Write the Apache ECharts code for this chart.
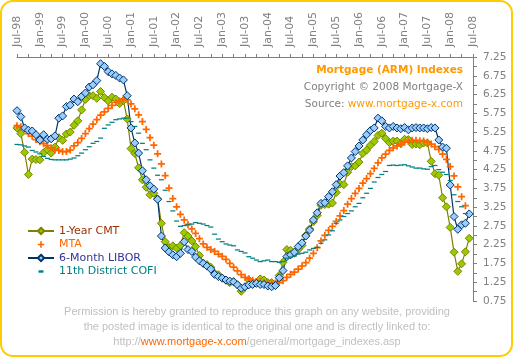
<!DOCTYPE html>
<html><head><meta charset="utf-8">
<script src="https://cdn.jsdelivr.net/npm/echarts@6/dist/echarts.min.js"></script>
<style>html,body{margin:0;padding:0;background:#fff}#c{width:514px;height:358px}</style>
</head><body><div id="c"></div>
<script>
var months = ["Jul-98","Aug-98","Sep-98","Oct-98","Nov-98","Dec-98",
"Jan-99","Feb-99","Mar-99","Apr-99","May-99","Jun-99","Jul-99","Aug-99","Sep-99","Oct-99","Nov-99","Dec-99",
"Jan-00","Feb-00","Mar-00","Apr-00","May-00","Jun-00","Jul-00","Aug-00","Sep-00","Oct-00","Nov-00","Dec-00",
"Jan-01","Feb-01","Mar-01","Apr-01","May-01","Jun-01","Jul-01","Aug-01","Sep-01","Oct-01","Nov-01","Dec-01",
"Jan-02","Feb-02","Mar-02","Apr-02","May-02","Jun-02","Jul-02","Aug-02","Sep-02","Oct-02","Nov-02","Dec-02",
"Jan-03","Feb-03","Mar-03","Apr-03","May-03","Jun-03","Jul-03","Aug-03","Sep-03","Oct-03","Nov-03","Dec-03",
"Jan-04","Feb-04","Mar-04","Apr-04","May-04","Jun-04","Jul-04","Aug-04","Sep-04","Oct-04","Nov-04","Dec-04",
"Jan-05","Feb-05","Mar-05","Apr-05","May-05","Jun-05","Jul-05","Aug-05","Sep-05","Oct-05","Nov-05","Dec-05",
"Jan-06","Feb-06","Mar-06","Apr-06","May-06","Jun-06","Jul-06","Aug-06","Sep-06","Oct-06","Nov-06","Dec-06",
"Jan-07","Feb-07","Mar-07","Apr-07","May-07","Jun-07","Jul-07","Aug-07","Sep-07","Oct-07","Nov-07","Dec-07",
"Jan-08","Feb-08","Mar-08","Apr-08","May-08","Jun-08","Jul-08"];

var cmt = [5.36,5.21,4.71,4.12,4.53,4.52,4.51,4.70,4.78,4.69,4.85,5.10,
5.03,5.20,5.25,5.43,5.55,5.84,6.12,6.22,6.22,6.15,6.33,6.17,
6.08,6.18,6.13,6.01,6.09,5.60,4.81,4.68,4.30,3.98,3.78,3.58,
3.62,3.47,2.82,2.33,2.18,2.22,2.16,2.23,2.57,2.48,2.35,2.20,
1.96,1.76,1.72,1.65,1.49,1.45,1.36,1.30,1.24,1.27,1.18,1.01,
1.12,1.31,1.24,1.25,1.34,1.31,1.24,1.24,1.19,1.43,1.78,2.12,
2.10,2.02,2.12,2.23,2.50,2.67,2.86,3.03,3.30,3.32,3.33,3.36,
3.64,3.87,3.85,4.18,4.33,4.35,4.45,4.68,4.77,4.90,5.00,5.16,
5.22,5.08,4.97,5.01,5.01,4.94,5.06,5.05,4.92,4.93,4.91,4.96,
4.96,4.47,4.14,4.10,3.50,3.26,2.71,2.05,1.54,1.74,2.06,2.42];

var mta = [5.42,5.39,5.33,5.21,5.14,5.05,4.99,4.94,4.89,4.83,4.78,4.76,
4.73,4.73,4.77,4.88,4.97,5.08,5.21,5.34,5.46,5.58,5.70,5.79,
5.88,5.96,6.04,6.08,6.13,6.11,6.00,5.87,5.71,5.53,5.32,5.10,
4.90,4.67,4.40,4.09,3.76,3.48,3.26,3.06,2.91,2.79,2.67,2.55,
2.41,2.27,2.18,2.12,2.07,2.00,1.94,1.86,1.75,1.65,1.55,1.45,
1.38,1.34,1.30,1.27,1.26,1.24,1.23,1.23,1.23,1.24,1.29,1.38,
1.46,1.52,1.60,1.68,1.77,1.89,2.02,2.17,2.35,2.50,2.63,2.74,
2.87,3.02,3.16,3.33,3.48,3.62,3.75,3.89,4.01,4.14,4.28,4.43,
4.56,4.66,4.76,4.83,4.88,4.93,4.98,5.01,5.03,5.03,5.02,5.01,
4.98,4.93,4.86,4.79,4.66,4.52,4.33,4.08,3.79,3.53,3.29];

var libor = [5.82,5.66,5.36,5.30,5.28,5.18,5.04,5.18,5.06,5.07,5.15,5.62,
5.68,5.93,5.97,6.13,6.06,6.20,6.29,6.45,6.51,6.62,7.07,7.00,
6.86,6.80,6.76,6.69,6.64,6.22,5.36,4.96,4.69,4.22,3.98,3.82,
3.73,3.46,2.48,2.16,2.06,1.98,1.93,2.02,2.33,2.12,2.07,1.92,
1.82,1.75,1.68,1.60,1.46,1.40,1.36,1.31,1.28,1.26,1.18,1.09,
1.13,1.18,1.19,1.22,1.19,1.19,1.15,1.13,1.16,1.37,1.56,1.93,
1.98,2.05,2.20,2.30,2.48,2.64,2.91,3.10,3.35,3.37,3.53,3.66,
3.85,4.08,4.17,4.35,4.56,4.73,4.88,5.04,5.18,5.29,5.36,5.62,
5.55,5.40,5.36,5.40,5.36,5.34,5.37,5.31,5.36,5.37,5.36,5.36,
5.34,5.37,5.36,5.04,4.85,4.82,3.84,3.00,2.66,2.78,2.82,3.07];

var cofi = [4.92,4.91,4.88,4.85,4.76,4.72,4.67,4.60,4.55,4.52,4.51,4.51,
4.51,4.51,4.53,4.56,4.62,4.69,4.78,4.86,4.95,5.00,5.09,5.35,
5.44,5.51,5.58,5.60,5.62,5.62,5.53,5.40,5.22,4.95,4.78,4.51,
4.29,4.10,3.98,3.70,3.40,3.15,2.88,2.74,2.76,2.78,2.80,2.84,
2.82,2.80,2.76,2.72,2.53,2.40,2.33,2.27,2.24,2.22,2.11,2.07,
2.03,1.93,1.89,1.84,1.80,1.82,1.84,1.80,1.80,1.78,1.80,1.89,
1.92,1.95,2.00,2.02,2.05,2.11,2.15,2.18,2.29,2.38,2.51,2.62,
2.82,2.91,3.00,3.08,3.15,3.26,3.35,3.50,3.62,3.75,3.92,4.04,
4.12,4.20,4.36,4.37,4.36,4.37,4.38,4.35,4.32,4.29,4.29,4.27,
4.26,4.33,4.36,4.25,4.18,4.12,3.96,3.58,3.40,3.26,3.08];

var seriesNames = ["1-Year CMT","MTA","6-Month LIBOR","11th District COFI"];

var chart = echarts.init(document.getElementById('c'), null, {renderer:'canvas'});
var axisGray = '#808080';
var plus = 'path://M3,0H5V3H8V5H5V8H3V5H0V3H3Z';
var dash = 'path://M0,0H10V5H0Z';
var legendDash = 'path://M0,0L0,0M26,8L26,8M10.5,2.8H15.5V5.2H10.5Z';
chart.setOption({
  animation:false,
  backgroundColor:'#fff',
  grid:{left:17,right:41,top:57,bottom:57,containLabel:false},
  xAxis:{type:'category',position:'top',data:months,boundaryGap:false,
    axisLine:{lineStyle:{color:axisGray,width:1}},
    axisTick:{interval:2,length:3,lineStyle:{color:axisGray}},
    axisLabel:{interval:5,rotate:-90,margin:10,color:axisGray,fontFamily:'DejaVu Sans',fontSize:11},
    splitLine:{show:false}},
  yAxis:{type:'value',position:'right',min:0.75,max:7.25,interval:0.25,
    axisLine:{show:true,lineStyle:{color:axisGray,width:1}},
    axisTick:{show:true,length:4,lineStyle:{color:axisGray}},
    axisLabel:{margin:10,color:axisGray,fontFamily:'DejaVu Sans',fontSize:10.5,
      formatter:function(v){var k=Math.round((v-0.75)*100);return (k%50===0)?v.toFixed(2):'';}},
    splitLine:{show:false}},
  legend:{orient:'vertical',left:27,top:225,padding:0,itemWidth:26,itemHeight:8,itemGap:1.5,selectedMode:false,
    textStyle:{fontFamily:'DejaVu Sans',fontSize:11,lineHeight:12},
    data:[{name:seriesNames[0],textStyle:{color:'#993300'}},
          {name:seriesNames[1],textStyle:{color:'#FF6600'}},
          {name:seriesNames[2],textStyle:{color:'#333399'}},
          {name:seriesNames[3],icon:legendDash,itemStyle:{color:'#008080',borderWidth:0},textStyle:{color:'#008080'}}]},
  series:[
    {name:seriesNames[0],type:'line',data:cmt,symbol:'diamond',symbolSize:8,showAllSymbol:true,
      itemStyle:{color:'#99CC00',borderColor:'#808000',borderWidth:1},
      lineStyle:{color:'#808000',width:1.2}},
    {name:seriesNames[1],type:'line',data:mta,symbol:plus,symbolSize:7,showAllSymbol:true,
      itemStyle:{color:'#FF6600'},lineStyle:{width:0,opacity:0}},
    {name:seriesNames[2],type:'line',data:libor,symbol:'diamond',symbolSize:8,showAllSymbol:true,
      itemStyle:{color:'#99CCFF',borderColor:'#003366',borderWidth:1},
      lineStyle:{color:'#003366',width:1.2}},
    {name:seriesNames[3],type:'line',data:cofi,symbol:dash,symbolSize:[5,2.5],symbolKeepAspect:true,showAllSymbol:true,
      itemStyle:{color:'#008080'},lineStyle:{width:0,opacity:0}}
  ],
  graphic:[
    {type:'rect',silent:true,z:-10,shape:{x:1,y:1,width:511,height:355,r:12},style:{fill:'#fff',stroke:'#FFCC00',lineWidth:2}},
    {type:'text',silent:true,x:463,y:70,style:{text:'Mortgage (ARM) Indexes',fill:'#FF9900',font:'bold 10.5px "DejaVu Sans"',align:'right',verticalAlign:'middle'}},
    {type:'text',silent:true,x:463,y:87,style:{text:'Copyright \u00a9 2008 Mortgage-X',fill:'#808080',font:'10.5px "DejaVu Sans"',align:'right',verticalAlign:'middle'}},
    {type:'text',silent:true,x:463,y:104,style:{text:'{a|Source: }{b|www.mortgage-x.com}',align:'right',verticalAlign:'middle',font:'10.5px "DejaVu Sans"',
      rich:{a:{fill:'#808080',font:'10.5px "DejaVu Sans"'},b:{fill:'#FF9900',font:'10.5px "DejaVu Sans"'}}}},
    {type:'text',silent:true,x:257,y:312,style:{text:'Permission is hereby granted to reproduce this graph on any website, providing',fill:'#C0C0C0',font:'11px "Liberation Sans"',align:'center',verticalAlign:'middle'}},
    {type:'text',silent:true,x:257,y:327,style:{text:'the posted image is identical to the original one and is directly linked to:',fill:'#C0C0C0',font:'11px "Liberation Sans"',align:'center',verticalAlign:'middle'}},
    {type:'text',silent:true,x:257,y:342,style:{text:'{a|http://}{b|www.mortgage-x.com}{a|/general/mortgage_indexes.asp}',align:'center',verticalAlign:'middle',font:'11px "Liberation Sans"',
      rich:{a:{fill:'#C0C0C0',font:'11px "Liberation Sans"'},b:{fill:'#FF6600',font:'11px "Liberation Sans"'}}}}
  ]
});
</script></body></html>
